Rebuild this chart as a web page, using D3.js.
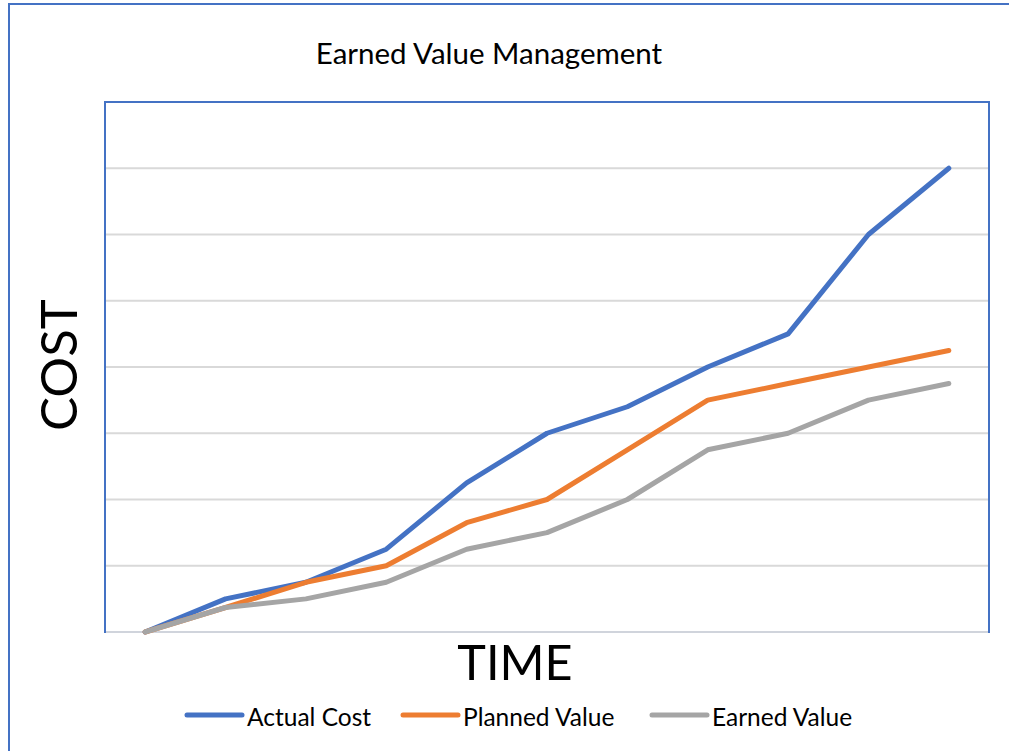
<!DOCTYPE html>
<html>
<head>
<meta charset="utf-8">
<script src="https://cdn.jsdelivr.net/npm/d3@7"></script>
<style>
  body { margin: 0; background: #fff; }
  text { font-family: Lato, "Open Sans", sans-serif; fill: #000; }
</style>
</head>
<body>
<svg id="chart" width="1009" height="751"></svg>
<script>
// chart values (units = gridline steps)
var periods = ["1", "2", "3", "4", "5", "6", "7", "8", "9", "10", "11"];
var actualCost   = [0, 0.5, 0.75, 1.25, 2.25, 3, 3.4, 4, 4.5, 6, 7];
var plannedValue = [0, 0.37, 0.75, 1, 1.65, 2, 2.75, 3.5, 3.75, 4, 4.25];
var earnedValue  = [0, 0.37, 0.5, 0.75, 1.25, 1.5, 2, 2.75, 3, 3.5, 3.75];
var seriesNames  = ["Actual Cost", "Planned Value", "Earned Value"];
var yTicks = [1, 2, 3, 4, 5, 6, 7];

var colors = ["#4472C4", "#ED7D31", "#A5A5A5"];
var series = [actualCost, plannedValue, earnedValue];

var svg = d3.select("#chart");

// outer chart-area frame (runs off the right/bottom of the picture)
svg.append("rect")
    .attr("x", 9).attr("y", 4)
    .attr("width", 1020).attr("height", 780)
    .attr("fill", "none")
    .attr("stroke", "#4472C4")
    .attr("stroke-width", 2);

var plot = {left: 105, top: 102, right: 989, bottom: 632};

var x = d3.scalePoint()
    .domain(periods)
    .range([plot.left, plot.right])
    .padding(0.5);

var y = d3.scaleLinear()
    .domain([0, 8])
    .range([plot.bottom, plot.top]);

// gridlines
svg.append("g")
  .selectAll("line")
    .data(yTicks)
    .enter().append("line")
    .attr("x1", plot.left).attr("x2", plot.right)
    .attr("y1", function(d) { return y(d); })
    .attr("y2", function(d) { return y(d); })
    .attr("stroke", "#d9d9d9")
    .attr("stroke-width", 2);

// plot-area frame
svg.append("rect")
    .attr("x", plot.left).attr("y", plot.top)
    .attr("width", plot.right - plot.left)
    .attr("height", plot.bottom - plot.top)
    .attr("fill", "none")
    .attr("stroke", "#4472C4")
    .attr("stroke-width", 2);

// category axis baseline
svg.append("line")
    .attr("x1", plot.left + 1).attr("x2", plot.right - 1)
    .attr("y1", y(0)).attr("y2", y(0))
    .attr("stroke", "#d0d4dc")
    .attr("stroke-width", 2);

var line = d3.line()
    .x(function(d, i) { return x(periods[i]); })
    .y(function(d) { return y(d); });

svg.append("g")
  .selectAll("path")
    .data(series)
    .enter().append("path")
    .attr("d", line)
    .attr("fill", "none")
    .attr("stroke", function(d, i) { return colors[i]; })
    .attr("stroke-width", 5)
    .attr("stroke-linejoin", "round")
    .attr("stroke-linecap", "round");

// titles
svg.append("text")
    .attr("x", 489).attr("y", 64)
    .attr("text-anchor", "middle")
    .attr("font-size", 29.5)
    .text("Earned Value Management");

svg.append("text")
    .attr("transform", "translate(77,365) rotate(-90)")
    .attr("text-anchor", "middle")
    .attr("font-size", 51)
    .text("COST");

svg.append("text")
    .attr("x", 515).attr("y", 680)
    .attr("text-anchor", "middle")
    .attr("font-size", 48.5)
    .text("TIME");

// legend
var legendX = [187, 403, 652];
var legend = svg.append("g")
  .selectAll("g")
    .data(seriesNames)
    .enter().append("g")
    .attr("transform", function(d, i) { return "translate(" + legendX[i] + ",715)"; });

legend.append("line")
    .attr("x1", 0).attr("x2", 55)
    .attr("stroke", function(d, i) { return colors[i]; })
    .attr("stroke-width", 5)
    .attr("stroke-linecap", "round");

legend.append("text")
    .attr("x", 60).attr("y", 11)
    .attr("font-size", 24.5)
    .text(function(d) { return d; });
</script>
</body>
</html>
